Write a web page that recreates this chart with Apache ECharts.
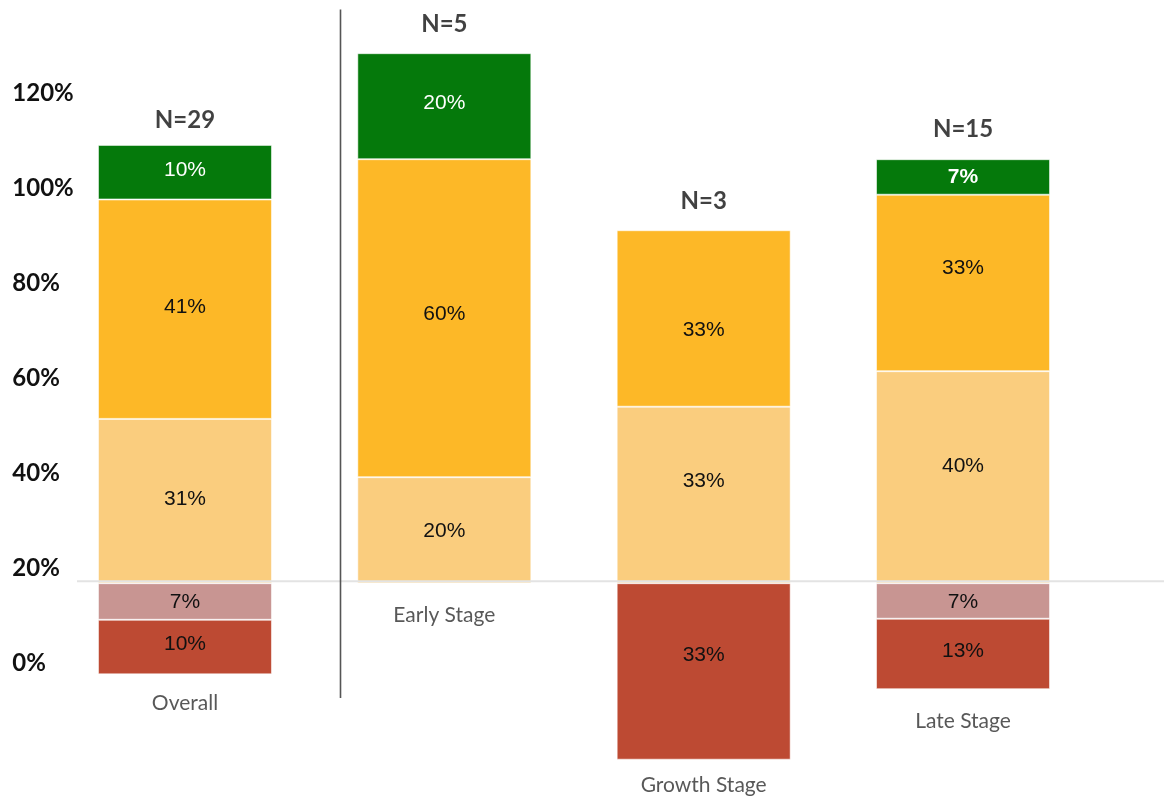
<!DOCTYPE html>
<html><head><meta charset="utf-8">
<script src="https://cdn.jsdelivr.net/npm/echarts@6/dist/echarts.min.js"></script>
<style>html,body{margin:0;padding:0;background:#fff}#c{width:1164px;height:797px}</style>
</head><body><div id="c"></div>
<script>
// ---- data (percent of respondents) ----
const categories = ['Overall', 'Early Stage', 'Growth Stage', 'Late Stage'];
const sampleSizes = [29, 5, 3, 15];
// below baseline (closest to zero first)
const negLight  = [6.9, 0, 0, 6.7];
const negStrong = [10.3, 0, 33.3, 13.3];
// above baseline (bottom to top)
const posLight  = [31.0, 20, 33.3, 40];
const posMid    = [41.4, 60, 33.3, 33.3];
const posStrong = [10.3, 20, 0, 6.7];
const tickValues = [0, 20, 40, 60, 80, 100, 120];

// ---- styling (label nudges as in the original layout, px) ----
const labelNudge = {
  negLight:  [1, 0, 0, 1],
  negStrong: [-3, 0, -16, -3],
  posLight:  [-1.5, 1, -14, -11],
  posMid:    [-2, -4, 12, -15],
  posStrong: [-1.5, -3, 0, 0]
};
const nNudge = [4, 0, 0, -1.5];
const catNudge = [1, 4, -2, 4];

const chart = echarts.init(document.getElementById('c'), null, {renderer: 'canvas'});
const valueFont = 'Liberation Sans, Arial, sans-serif';
const headFont = 'Lato, "Noto Sans", sans-serif';

function barSeries(name, values, sign, color, labelColor, boldIdx) {
  const nudge = labelNudge[name];
  return {
    name: name, type: 'bar', stack: 'all', yAxisIndex: 0, barWidth: 174,
    itemStyle: {color: color, borderColor: 'rgba(255,255,255,0.55)', borderWidth: 1},
    label: {
      show: true, position: 'inside', color: labelColor,
      fontFamily: valueFont, fontSize: 21,
      formatter: p => Math.round(Math.abs(p.value)) + '%'
    },
    data: values.map((v, i) => {
      if (v === 0) return '-';
      const lab = {offset: [0, nudge[i]]};
      if (boldIdx === i) lab.fontWeight = 'bold';
      return {value: sign * v, label: lab};
    })
  };
}

const posTotals = categories.map((c, i) => posLight[i] + posMid[i] + posStrong[i]);
const negTotals = categories.map((c, i) => -(negLight[i] + negStrong[i]));

chart.setOption({
  animation: false,
  backgroundColor: '#fff',
  grid: {left: 55.3, right: 71.3, top: 26.7, bottom: 28.3, containLabel: false},
  xAxis: {type: 'category', data: categories, show: false},
  yAxis: [
    {type: 'value', min: -35, max: 105, show: false},
    {
      type: 'value', min: -22.25, max: 133.96, position: 'left',
      axisLine: {show: false}, axisTick: {show: false}, splitLine: {show: false},
      axisLabel: {
        customValues: tickValues, align: 'left', margin: 43,
        formatter: v => v + '%', color: '#111',
        fontFamily: headFont, fontWeight: 'bold', fontSize: 24
      }
    }
  ],
  series: [
    barSeries('negLight', negLight, -1, '#C89592', '#111'),
    barSeries('negStrong', negStrong, -1, '#BD4A33', '#111'),
    barSeries('posLight', posLight, 1, '#FACD7E', '#111'),
    barSeries('posMid', posMid, 1, '#FDB827', '#111'),
    barSeries('posStrong', posStrong, 1, '#05790B', '#fff', 3),
    {
      type: 'scatter', yAxisIndex: 0, symbolSize: 1, itemStyle: {color: 'rgba(0,0,0,0)'}, z: 5,
      label: {
        show: true, position: 'top', distance: 16, color: '#111',
        fontFamily: headFont, fontWeight: 'bold', fontSize: 24,
        formatter: p => 'N=' + sampleSizes[p.dataIndex]
      },
      data: posTotals.map((v, i) => ({value: v, label: {offset: [0, nNudge[i]]}}))
    },
    {
      type: 'scatter', yAxisIndex: 0, symbolSize: 1, itemStyle: {color: 'rgba(0,0,0,0)'}, z: 5,
      label: {
        show: true, position: 'bottom', distance: 17, color: '#2e2e2e',
        fontFamily: headFont, fontSize: 21,
        formatter: p => categories[p.dataIndex]
      },
      data: negTotals.map((v, i) => ({value: v, label: {offset: [0, catNudge[i]]}}))
    }
  ]
});

const y0 = chart.convertToPixel({yAxisIndex: 0}, 0);
chart.setOption({
  graphic: [
    {type: 'line', z: 100, shape: {x1: 77, y1: y0 - 2, x2: 1164, y2: y0 - 2},
     style: {stroke: '#e3e3e3', lineWidth: 2}},
    {type: 'line', z: 100, shape: {x1: 340.5, y1: 9.5, x2: 340.5, y2: 698},
     style: {stroke: '#555', lineWidth: 1.6}}
  ]
});
</script>
</body></html>
